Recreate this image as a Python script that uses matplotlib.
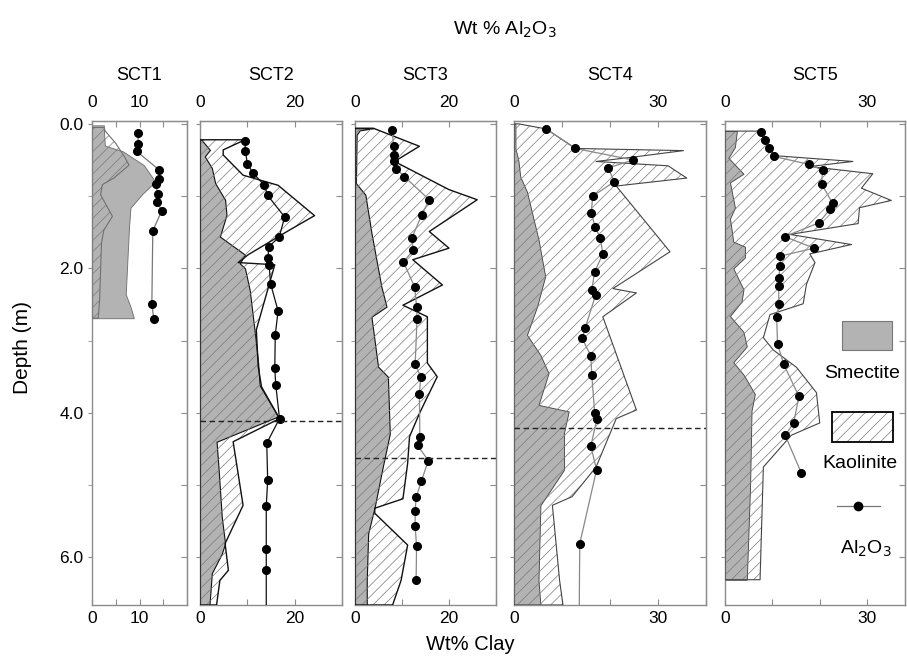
import matplotlib
matplotlib.use("Agg")
import matplotlib.pyplot as plt
from matplotlib import font_manager
from matplotlib.patches import Rectangle
from matplotlib.lines import Line2D

names = {f.name for f in font_manager.fontManager.ttflist}
REG = 'Liberation Sans' if 'Liberation Sans' in names else 'DejaVu Sans'
NARROW = 'Liberation Sans Narrow' if 'Liberation Sans Narrow' in names else REG
plt.rcParams['font.family'] = [REG, 'DejaVu Sans']
plt.rcParams['hatch.linewidth'] = 0.5

# ---------------- data ----------------
panel_names = ["SCT1", "SCT2", "SCT3", "SCT4", "SCT5"]
panel_xmax = [20, 30, 30, 40, 38]
panel_xticks = [[0, 5, 10, 15, 20], [0, 10, 20, 30], [0, 10, 20, 30],
                [0, 10, 20, 30, 40], [0, 10, 20, 30]]
panel_xlabels = [["0", "", "10", "", ""], ["0", "", "20", ""], ["0", "", "20", ""],
                 ["0", "", "", "30", ""], ["0", "", "", "30"]]
depth_ticks = [0, 2, 4, 6]
depth_labels = ["0.0", "2.0", "4.0", "6.0"]

# SCT1
sct1_al_depth = [0.13, 0.28, 0.38, 0.64, 0.76, 0.83, 0.97, 1.08, 1.20, 1.48, 2.49, 2.70]
sct1_al = [9.7, 9.7, 9.4, 14.2, 14.2, 13.4, 13.8, 13.7, 14.7, 12.8, 12.6, 13.0]
sct1_sm_depth = [0.02, 0.08, 0.30, 0.38, 0.57, 0.80, 0.97, 1.16, 1.42, 1.95, 2.36, 2.53, 2.69]
sct1_sm = [2.5, 2.5, 2.7, 6.5, 10.9, 13.3, 10.6, 8.1, 7.8, 7.4, 7.1, 8.1, 8.8]
sct1_ka_depth = [0.05, 0.10, 0.27, 0.45, 0.57, 0.75, 0.84, 0.98, 1.28, 1.47, 1.65, 2.44, 2.69]
sct1_ka = [2.5, 2.8, 5.0, 6.8, 7.8, 4.6, 2.2, 1.8, 4.3, 2.5, 2.0, 1.6, 1.3]

# SCT2
sct2_al_depth = [0.23, 0.38, 0.55, 0.68, 0.85, 0.99, 1.29, 1.57, 1.70, 1.86, 1.95, 2.21,
                 2.59, 2.92, 3.38, 3.61, 4.08, 4.42, 4.93, 5.29, 5.88, 6.18]
sct2_al = [9.5, 9.6, 10.0, 11.2, 13.6, 14.3, 17.9, 16.7, 14.5, 14.4, 14.6, 14.9,
           16.5, 15.9, 15.8, 16.0, 16.8, 14.1, 14.3, 14.0, 14.0, 14.0]
sct2_al_tail = (6.66, 14.0)
sct2_sm_depth = [0.22, 0.36, 0.45, 0.61, 0.82, 1.05, 1.26, 1.56, 1.81, 1.93, 2.00, 2.30,
                 2.90, 3.32, 3.62, 4.05, 4.40, 4.75, 5.44, 5.81, 5.95, 6.22, 6.66]
sct2_sm = [0.3, 2.1, 1.0, 2.5, 3.2, 5.3, 5.6, 4.2, 9.5, 8.4, 9.5, 10.5,
           11.6, 12.3, 12.6, 16.5, 3.5, 3.9, 4.6, 5.3, 4.6, 2.5, 2.0]
sct2_ka_depth = [0.22, 0.36, 0.43, 0.71, 0.85, 1.27, 1.47, 1.81, 1.92, 1.95, 2.85, 3.36,
                 3.64, 4.08, 4.40, 5.28, 5.81, 6.18, 6.32, 6.66]
sct2_ka = [9.5, 4.9, 4.9, 9.1, 16.5, 24.2, 18.9, 10.2, 8.1, 15.8, 11.9, 12.3,
           13.0, 16.8, 7.0, 9.1, 5.3, 6.0, 4.2, 3.5]
sct2_dash = 4.11

# SCT3
sct3_al_depth = [0.08, 0.31, 0.43, 0.51, 0.62, 0.73, 1.05, 1.26, 1.58, 1.75, 1.91, 2.26,
                 2.53, 2.70, 3.33, 3.50, 3.74, 4.34, 4.45, 4.66, 4.95, 5.17, 5.36, 5.57,
                 5.85, 6.32]
sct3_al = [7.9, 8.2, 8.4, 8.3, 8.8, 10.5, 15.8, 14.2, 12.1, 12.4, 10.3, 12.7,
           13.1, 13.2, 12.8, 14.0, 13.7, 13.8, 13.3, 15.6, 14.1, 13.0, 12.8, 12.8,
           13.1, 13.0]
sct3_sm_depth = [0.06, 0.09, 0.15, 0.82, 0.98, 1.51, 2.25, 2.53, 2.67, 3.36, 3.50, 4.29,
                 4.75, 5.30, 5.67, 6.32, 6.66]
sct3_sm = [3.9, 1.0, 0.35, 0.2, 2.2, 3.5, 5.6, 6.7, 3.5, 4.9, 7.0, 7.4,
           5.9, 4.2, 2.8, 2.5, 2.5]
sct3_ka_depth = [0.06, 0.31, 0.52, 0.91, 1.05, 1.49, 1.72, 1.88, 2.23, 2.51, 2.67, 3.31,
                 3.50, 3.82, 4.01, 4.33, 4.70, 5.19, 5.32, 5.39, 5.83, 6.32, 6.66]
sct3_ka = [3.9, 13.7, 8.4, 20.0, 26.0, 15.8, 20.0, 12.3, 18.6, 10.2, 15.4, 15.4,
           17.5, 15.1, 13.7, 11.6, 11.2, 10.2, 4.2, 4.2, 11.2, 9.8, 8.0]
sct3_dash = 4.62

# SCT4
sct4_al_depth = [0.07, 0.34, 0.50, 0.61, 0.80, 1.00, 1.23, 1.43, 1.58, 1.80, 2.05, 2.30,
                 2.37, 2.83, 2.97, 3.21, 3.47, 4.00, 4.08, 4.46, 4.79, 5.81]
sct4_al = [6.7, 12.8, 24.8, 19.6, 20.9, 16.4, 16.1, 16.9, 18.0, 18.5, 16.8, 16.2,
           17.0, 14.8, 14.2, 16.0, 16.2, 16.8, 17.3, 16.0, 17.2, 13.7]
sct4_al_tail = (6.66, 13.6)
sct4_sm_depth = [0.0, 0.34, 0.50, 0.73, 0.94, 1.60, 2.11, 2.53, 2.92, 3.20, 3.45, 3.89,
                 3.98, 4.28, 4.79, 5.28, 6.32, 6.66]
sct4_sm = [0.3, 0.3, 0.9, 1.3, 2.7, 5.1, 6.5, 4.8, 2.7, 5.5, 7.2, 5.1,
           11.4, 10.4, 10.4, 5.5, 5.1, 5.5]
sct4_ka_depth = [0.0, 0.07, 0.34, 0.37, 0.46, 0.52, 0.58, 0.75, 0.86, 1.77, 2.28, 2.34,
                 2.67, 3.96, 4.08, 4.75, 5.16, 5.28, 6.32, 6.66]
sct4_ka = [1.0, 6.7, 12.8, 35.3, 24.8, 17.1, 32.1, 36.0, 21.3, 32.5, 20.6, 25.5,
           18.5, 25.5, 21.3, 17.1, 12.1, 8.0, 9.5, 10.2]
sct4_dash = 4.21

# SCT5
sct5_al_depth = [0.11, 0.22, 0.34, 0.45, 0.56, 0.64, 0.83, 1.10, 1.18, 1.37, 1.56, 1.72,
                 1.83, 1.97, 2.13, 2.25, 2.50, 2.67, 3.05, 3.33, 3.77, 4.14, 4.31, 4.83]
sct5_al = [7.5, 8.4, 9.3, 10.3, 17.7, 20.6, 20.4, 22.7, 22.2, 19.8, 12.6, 18.8,
           11.7, 11.6, 11.4, 11.3, 11.4, 10.9, 11.1, 12.4, 15.6, 14.5, 12.7, 16.1]
sct5_sm_depth = [0.10, 0.32, 0.47, 0.69, 0.81, 1.16, 1.31, 1.63, 1.70, 1.85, 2.00, 2.29,
                 2.46, 2.66, 2.88, 3.08, 3.30, 3.47, 3.74, 3.97, 5.00, 6.31]
sct5_sm = [2.5, 2.1, 0.7, 3.9, 1.05, 2.1, 1.05, 1.75, 4.2, 4.2, 1.75, 3.9,
           3.5, 1.05, 3.9, 4.6, 1.75, 3.9, 6.3, 5.6, 5.3, 4.6]
sct5_ka_depth = [0.10, 0.44, 0.52, 0.59, 0.69, 0.89, 1.06, 1.16, 1.38, 1.53, 1.67, 1.80,
                 1.92, 2.22, 2.49, 2.64, 2.96, 3.13, 3.37, 3.72, 4.14, 4.31, 4.75, 6.31]
sct5_ka = [7.4, 10.5, 27.0, 17.9, 31.2, 28.8, 35.1, 28.4, 28.1, 13.7, 26.7, 17.9,
           19.0, 17.2, 16.5, 9.5, 8.1, 10.2, 15.1, 19.3, 20.0, 14.0, 8.1, 7.4]

panels = [
    dict(al_d=sct1_al_depth, al=sct1_al, sm_d=sct1_sm_depth, sm=sct1_sm,
         ka_d=sct1_ka_depth, ka=sct1_ka, tail=None, dash=None),
    dict(al_d=sct2_al_depth, al=sct2_al, sm_d=sct2_sm_depth, sm=sct2_sm,
         ka_d=sct2_ka_depth, ka=sct2_ka, tail=sct2_al_tail, dash=sct2_dash),
    dict(al_d=sct3_al_depth, al=sct3_al, sm_d=sct3_sm_depth, sm=sct3_sm,
         ka_d=sct3_ka_depth, ka=sct3_ka, tail=None, dash=sct3_dash),
    dict(al_d=sct4_al_depth, al=sct4_al, sm_d=sct4_sm_depth, sm=sct4_sm,
         ka_d=sct4_ka_depth, ka=sct4_ka, tail=sct4_al_tail, dash=sct4_dash),
    dict(al_d=sct5_al_depth, al=sct5_al, sm_d=sct5_sm_depth, sm=sct5_sm,
         ka_d=sct5_ka_depth, ka=sct5_ka, tail=None, dash=None),
]

# ---------------- style / layout ----------------
W, H = 907, 667
fig = plt.figure(figsize=(W / 100, H / 100), dpi=100)
lefts_px = [92, 200, 355, 514, 725]
widths_px = [95, 142, 141, 192, 180]
top_px, bot_px = 121, 605
SM_COLOR = '#b3b3b3'
HATCH_COLOR = '#7a7a7a'
SPINE = '#8c8c8c'
outline_colors = ['#707070', '#111111', '#111111', '#444444', '#444444']
outline_lw = [0.8, 1.0, 1.0, 0.8, 0.8]
al_colors = ['#777777', '#111111', '#888888', '#888888', '#888888']

for i, p in enumerate(panels):
    ax = fig.add_axes([lefts_px[i] / W, 1 - bot_px / H, widths_px[i] / W,
                       (bot_px - top_px) / H])
    ax.set_xlim(0, panel_xmax[i])
    ax.set_ylim(6.66, -0.04)
    # smectite (grey)
    ax.fill_betweenx(p['sm_d'], 0, p['sm'], facecolor=SM_COLOR,
                     edgecolor=outline_colors[i], linewidth=outline_lw[i] * 0.8, zorder=1)
    # kaolinite (hatched, drawn over)
    ax.fill_betweenx(p['ka_d'], 0, p['ka'], facecolor='none', hatch='///',
                     edgecolor=HATCH_COLOR, linewidth=0, zorder=2)
    ax.fill_betweenx(p['ka_d'], 0, p['ka'], facecolor='none',
                     edgecolor=outline_colors[i], linewidth=outline_lw[i], zorder=3)
    # Al2O3
    ld, lv = list(p['al_d']), list(p['al'])
    if p['tail'] is not None:
        ld.append(p['tail'][0]); lv.append(p['tail'][1])
    ax.plot(lv, ld, color=al_colors[i], lw=0.9, zorder=4)
    ax.plot(p['al'], p['al_d'], 'o', color='black', ms=5.5, zorder=5)
    if p['dash'] is not None:
        ax.axhline(p['dash'], color='#222222', lw=1.0, ls=(0, (4, 2.5)), zorder=6)

    for s in ax.spines.values():
        s.set_color(SPINE); s.set_linewidth(1.0)
    # bottom ticks
    ax.set_xticks(panel_xticks[i])
    ax.set_xticklabels(panel_xlabels[i], fontfamily=NARROW, fontsize=12.5)
    ax.tick_params(axis='x', direction='in', length=4, color=SPINE, pad=4)
    # top ticks
    sec = ax.secondary_xaxis('top')
    sec.set_xticks(panel_xticks[i])
    sec.set_xticklabels(panel_xlabels[i], fontfamily=NARROW, fontsize=12.5)
    sec.tick_params(axis='x', direction='in', length=4, color=SPINE, pad=8)
    sec.spines['top'].set_color(SPINE)
    # depth ticks
    ax.set_yticks(depth_ticks)
    ax.set_yticks([1, 3, 5], minor=True)
    ax.tick_params(axis='y', which='both', direction='out', length=3, color=SPINE,
                   left=True, right=False)
    if i == 0:
        ax.set_yticklabels(depth_labels, fontsize=12.5)
        ax.tick_params(axis='y', pad=3)
    else:
        ax.set_yticklabels([])
    rsec = ax.secondary_yaxis('right')
    rsec.set_yticks([0, 1, 2, 3, 4, 5, 6])
    rsec.set_yticklabels([])
    rsec.tick_params(axis='y', direction='in', length=4, color=SPINE)
    rsec.spines['right'].set_color(SPINE)
    # panel title
    fig.text((lefts_px[i] + widths_px[i] / 2) / W, 1 - 75 / H, panel_names[i],
             ha='center', va='center', fontsize=13, fontfamily=NARROW)

fig.text(505 / W, 1 - 30 / H, 'Wt % Al$_2$O$_3$', ha='center', va='center',
         fontsize=14, fontfamily=NARROW)
fig.text(470 / W, 1 - 645 / H, 'Wt% Clay', ha='center', va='center',
         fontsize=14.5, fontfamily=NARROW)
fig.text(23 / W, 1 - 348 / H, 'Depth (m)', ha='center', va='center',
         rotation=90, fontsize=15)

# ---------------- legend (drawn in pixel space) ----------------
ov = fig.add_axes([0, 0, 1, 1], zorder=10)
ov.set_xlim(0, W); ov.set_ylim(H, 0); ov.axis('off'); ov.patch.set_alpha(0)
ov.add_patch(Rectangle((842, 321), 50, 29, facecolor=SM_COLOR, edgecolor='#777777', lw=0.8))
ov.text(862, 373, 'Smectite', ha='center', va='center', fontsize=14)
ov.add_patch(Rectangle((832, 412), 61, 30, facecolor='white', hatch='///',
                       edgecolor=HATCH_COLOR, lw=0))
ov.add_patch(Rectangle((832, 412), 61, 30, facecolor='none', edgecolor='black', lw=1.3))
ov.text(860, 464, 'Kaolinite', ha='center', va='center', fontsize=14)
ov.add_line(Line2D([837, 880], [506, 506], color='#777777', lw=0.9))
ov.add_line(Line2D([858], [506], marker='o', color='black', ms=6, ls='none'))
ov.text(866, 549, 'Al$_2$O$_3$', ha='center', va='center', fontsize=14)

fig.savefig('out.png', dpi=100)
